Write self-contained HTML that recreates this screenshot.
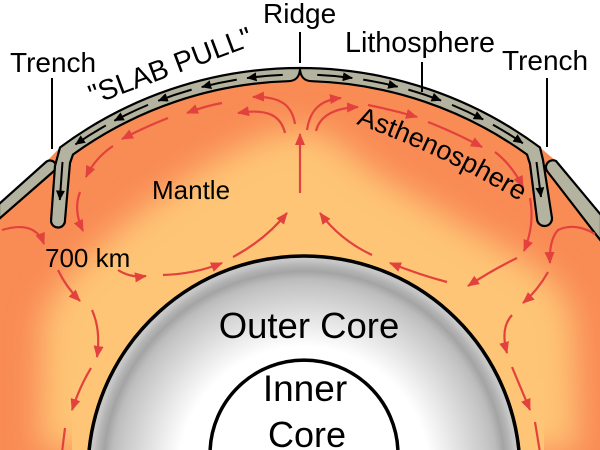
<!DOCTYPE html>
<html>
<head>
<meta charset="utf-8">
<style>
  html,body{margin:0;padding:0;background:#fff;width:600px;height:450px;overflow:hidden;}
  svg{display:block;}
  text{font-family:"Liberation Sans", Arial, sans-serif; fill:#000;}
</style>
</head>
<body>
<svg width="600" height="450" viewBox="0 0 600 450" xmlns="http://www.w3.org/2000/svg">
  <defs>
    <clipPath id="mantleClip">
      <path d="M0,203 L46,162 L60,147.5 A402,402 0 0 1 540,147.5 L556,161 L600,214 L600,450 L0,450 Z"/>
    </clipPath>
    <filter id="blur" x="-30%" y="-30%" width="160%" height="160%">
      <feGaussianBlur stdDeviation="16"/>
    </filter>
    <radialGradient id="coreGrad" gradientUnits="userSpaceOnUse" cx="304" cy="472" r="216">
      <stop offset="0" stop-color="#ffffff"/>
      <stop offset="0.58" stop-color="#ffffff"/>
      <stop offset="0.74" stop-color="#dedede"/>
      <stop offset="0.856" stop-color="#c6c6c6"/>
      <stop offset="0.893" stop-color="#bcbcbc"/>
      <stop offset="0.93" stop-color="#a4a4a4"/>
      <stop offset="0.958" stop-color="#b4b4b4"/>
      <stop offset="0.98" stop-color="#c6c6c6"/>
      <stop offset="1" stop-color="#cbcbcb"/>
    </radialGradient>
    <marker id="rh" markerUnits="userSpaceOnUse" markerWidth="12" markerHeight="10" refX="11" refY="5" orient="auto">
      <path d="M0,0 L12,5 L0,10 Z" fill="#e2413d"/>
    </marker>
    <marker id="bh" markerUnits="userSpaceOnUse" markerWidth="10" markerHeight="9" refX="9.5" refY="4.5" orient="auto">
      <path d="M0,0 L10,4.5 L0,9 Z" fill="#000"/>
    </marker>
    <path id="asthPath" d="M356,124 Q439.3,152.7 523,203"/>
  </defs>

  <!-- background -->
  <rect x="0" y="0" width="600" height="450" fill="#ffffff"/>

  <!-- mantle -->
  <g clip-path="url(#mantleClip)">
    <rect x="0" y="0" width="600" height="450" fill="#f98b55"/>
    <path filter="url(#blur)" fill="#fec576"
      d="M40,450 L42,320 C55,280 120,222 200,170 C240,146 275,128 305,130 C330,132 345,150 370,170 C400,190 430,205 470,230 C530,262 570,280 574,330 L578,450 Z"/>
    <rect x="72" y="380" width="472" height="70" fill="#fec576"/>
  </g>

  <!-- cores -->
  <path d="M89.12,450 A216,216 0 0 1 518.88,450 Z" fill="url(#coreGrad)"/>
  <path d="M89.12,450 A216,216 0 0 1 518.88,450" fill="none" stroke="#000" stroke-width="3.5"/>
  <path d="M210.09,450 A94,94 0 0 1 397.91,450 Z" fill="#ffffff"/>
  <path d="M210.09,450 A94,94 0 0 1 397.91,450" fill="none" stroke="#000" stroke-width="3.5"/>

  <!-- overriding plates -->
  <path d="M-1,204 L46,162 A6,6 0 0 1 54,171 L-1,219 Z" fill="#b3b3a0" stroke="#000" stroke-width="2.2" stroke-linejoin="round"/>
  <path d="M601,215 L556,161 A7,7 0 0 0 547,171 L601,241 Z" fill="#b3b3a0" stroke="#000" stroke-width="2.2" stroke-linejoin="round"/>

  <!-- lithosphere -->
  <path d="M51,221 L55,166 L60,147.5 A402,402 0 0 1 540,147.5 L543,160 L552,218 A7.5,7.5 0 0 1 537,219 L530,164 L527,154.5 A389,389 0 0 0 312,81.2 C305,81 301,78 300,70 C299,78 295,81 288,81.2 A389,389 0 0 0 73,154.5 L70,163 L65,220 A7,7 0 0 1 51,221 Z"
    fill="#b3b3a0" stroke="#000" stroke-width="2.2" stroke-linejoin="round"/>

  <!-- black plate-motion arrows -->
  <g fill="none" stroke="#000" stroke-width="2" marker-end="url(#bh)">
    <path d="M282.75,74.88 A395.5,395.5 0 0 0 247.0,78.07"/>
    <path d="M236.77,79.59 A395.5,395.5 0 0 0 201.64,87.07"/>
    <path d="M191.65,89.63 A395.5,395.5 0 0 0 158.27,100.77"/>
    <path d="M148.01,104.87 A395.5,395.5 0 0 0 114.32,120.79"/>
    <path d="M105.85,125.44 A395.5,395.5 0 0 0 75.42,144.45"/>
    <path d="M317.25,74.88 A395.5,395.5 0 0 1 352.31,77.97"/>
    <path d="M363.23,79.59 A395.5,395.5 0 0 1 397.69,86.75"/>
    <path d="M408.35,89.63 A395.5,395.5 0 0 1 441.09,100.52"/>
    <path d="M451.99,104.87 A395.5,395.5 0 0 1 483.23,119.51"/>
    <path d="M492.95,124.76 A395.5,395.5 0 0 1 522.88,143.28"/>
    <path d="M62.5,162 L59.8,200"/>
    <path d="M536.5,162 L541,197"/>
  </g>

  <!-- red convection arrows -->
  <g fill="none" stroke="#e2413d" stroke-width="2.2" marker-end="url(#rh)">
    <!-- left cell -->
    <path d="M295,124 C292,105 280,96 253,97"/>
    <path d="M285,133 C281,116 268,108 238,113"/>
    <path d="M222,103 Q205,106 187,113"/>
    <path d="M168,118 Q145,127 122,139"/>
    <path d="M113,146 Q95,158 86,177"/>
    <path d="M80,192 Q73,210 83,231"/>
    <path d="M2,230 Q35,220 44,244"/>
    <path d="M58,270 Q66,287 80,301"/>
    <path d="M92,310 Q101,330 97,357"/>
    <path d="M91,368 Q80,386 72,410"/>
    <path d="M118,270 Q130,278 146,276"/>
    <path d="M163,275 Q195,274 222,263"/>
    <path d="M233,257 Q265,240 287,213"/>
    <path d="M300,193 L300,134"/>
    <!-- right cell -->
    <path d="M307,130 C310,110 320,100 341,98"/>
    <path d="M316,131 C320,115 335,108 358,107"/>
    <path d="M368,105 Q393,110 417,117"/>
    <path d="M428,122 Q456,133 482,147"/>
    <path d="M495,152 Q512,165 523,187"/>
    <path d="M530,198 Q535,225 524,251"/>
    <path d="M595,234 Q575,222 558,230 Q549,240 550,263"/>
    <path d="M548,272 Q538,290 523,303"/>
    <path d="M512,315 Q500,328 507,353"/>
    <path d="M512,367 L530,410"/>
    <path d="M517,258 Q492,270 468,286"/>
    <path d="M447,282 Q420,275 390,263"/>
    <path d="M372,255 Q340,240 320,213"/>
  </g>
  <g fill="none" stroke="#e2413d" stroke-width="2.2">
    <path d="M65,428 L62.3,450"/>
    <path d="M535,422 L539.6,450"/>
  </g>

  <!-- leader lines -->
  <g stroke="#000" stroke-width="2">
    <line x1="52" y1="78" x2="52" y2="149"/>
    <line x1="547" y1="78" x2="547" y2="147"/>
    <line x1="300" y1="32" x2="300" y2="63"/>
    <line x1="422" y1="62" x2="422" y2="92"/>
  </g>

  <!-- labels -->
  <text x="10" y="72" font-size="28">Trench</text>
  <text x="263" y="23" font-size="28">Ridge</text>
  <text x="345" y="52" font-size="28.7">Lithosphere</text>
  <text x="502" y="70" font-size="28">Trench</text>
  <text x="152" y="199" font-size="26">Mantle</text>
  <text x="45" y="267" font-size="26">700 km</text>
  <text x="93" y="105" font-size="28.5" transform="rotate(-20.5 93 105)">"SLAB PULL"</text>
  <text font-size="27"><textPath href="#asthPath">Asthenosphere</textPath></text>
  <text x="309" y="338" font-size="36.5" text-anchor="middle">Outer Core</text>
  <text x="305" y="401" font-size="37" text-anchor="middle">Inner</text>
  <text x="307" y="447" font-size="36" text-anchor="middle">Core</text>
</svg>
</body>
</html>
